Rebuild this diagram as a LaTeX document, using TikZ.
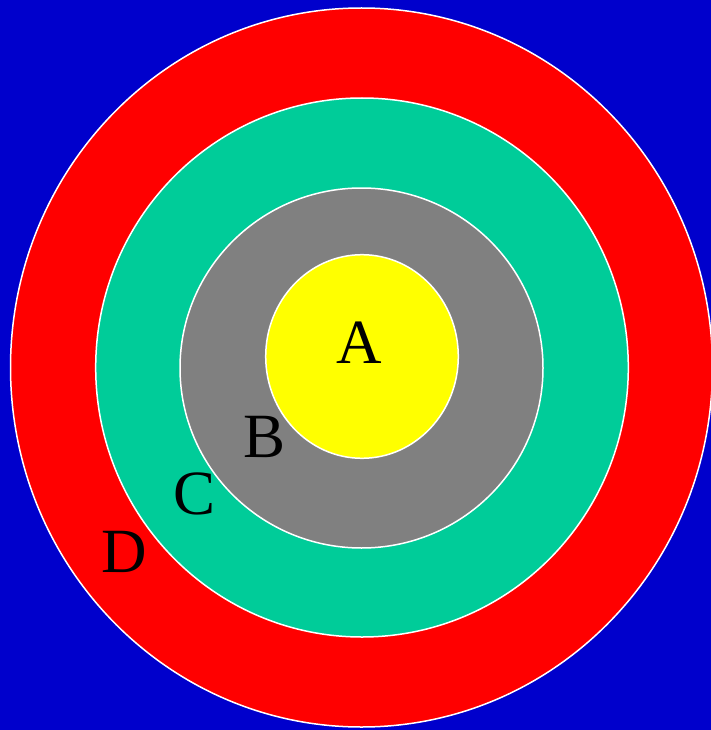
\documentclass[tikz,border=0pt]{standalone}
\usepackage{fontspec}
\setmainfont{Liberation Serif}
\definecolor{bgblue}{RGB}{0,0,204}
\definecolor{ringred}{RGB}{255,0,0}
\definecolor{ringgreen}{RGB}{0,204,153}
\definecolor{ringgray}{RGB}{128,128,128}
\definecolor{ringyellow}{RGB}{255,255,0}
\begin{document}
\begin{tikzpicture}[x=1pt,y=-1pt,
  ring/.style={draw=white,line width=1.5pt},
  lbl/.style={inner sep=0pt,font=\fontsize{63}{63}\selectfont,text=black}]
\fill[bgblue] (0,0) rectangle (711,730);
\useasboundingbox (0,0) rectangle (711,730);
\filldraw[ring,fill=ringred] (361.5,367.5) ellipse [x radius=351, y radius=359.5];
\filldraw[ring,fill=ringgreen] (362,367.5) ellipse [x radius=266.3, y radius=269.5];
\filldraw[ring,fill=ringgray] (361.5,368) ellipse [x radius=181.5, y radius=180];
\filldraw[ring,fill=ringyellow] (362,356.5) ellipse [x radius=96.3, y radius=101.8];
\node[lbl] (A) at (359,343) {A};
\node[lbl] (B) at (265,437) {B};
\node[lbl] (C) at (195,494) {C};
\node[lbl] (D) at (124,552) {D};
\end{tikzpicture}
\end{document}
